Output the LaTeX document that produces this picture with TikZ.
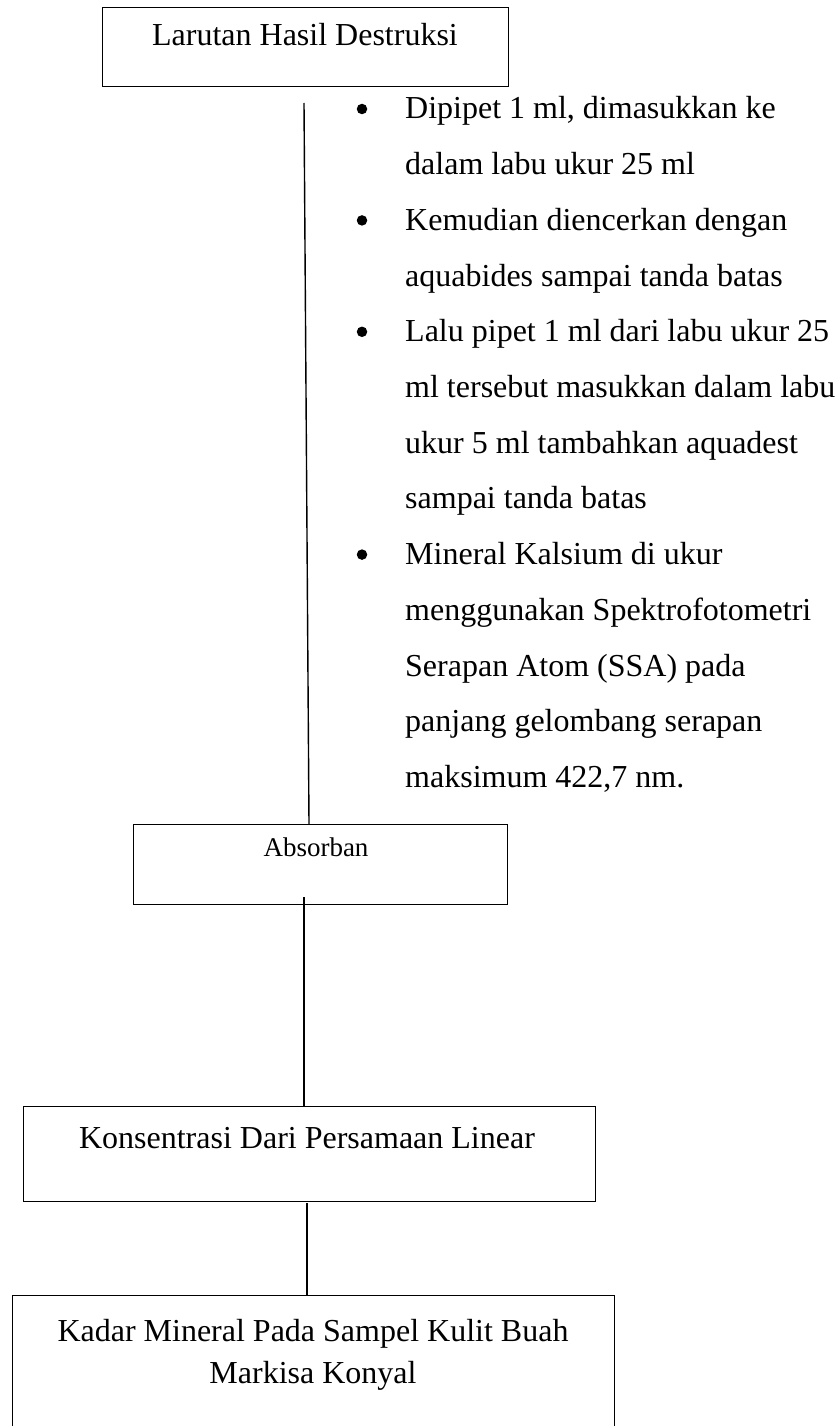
\documentclass[tikz,border=0pt]{standalone}
\usepackage{fontspec}
\setmainfont{Liberation Serif}
\begin{document}
\begin{tikzpicture}[x=1pt,y=-1pt,
  box/.style={draw=black, line width=1.4pt, inner sep=0pt, anchor=north west},
  txt/.style={inner sep=0pt, anchor=base, font=\fontsize{32}{40}\selectfont},
  small/.style={inner sep=0pt, anchor=base, font=\fontsize{27}{34}\selectfont},
  item/.style={inner sep=0pt, anchor=base west, font=\fontsize{32}{40}\selectfont},
  dot/.style={circle, fill=black, inner sep=0pt, minimum size=10.5pt},
  link/.style={draw=black, line width=1.4pt}]
\useasboundingbox[fill=white] (0,0) rectangle (838,1426);

% boxes
\node[box, minimum width=406pt, minimum height=79pt] (b1) at (102,7) {};
\node[box, minimum width=374pt, minimum height=80pt] (b2) at (133,824) {};
\node[box, minimum width=572pt, minimum height=95pt] (b3) at (23,1106) {};
\node[box, minimum width=602pt, minimum height=160pt] (b4) at (12,1295) {};

% box labels
\node[txt] (l1) at (305,46) {Larutan Hasil Destruksi};
\node[small] (l2) at (316,856) {Absorban};
\node[txt] (l3) at (307,1148) {Konsentrasi Dari Persamaan Linear};
\node[txt] (l4a) at (313,1341) {Kadar Mineral Pada Sampel Kulit Buah};
\node[txt] (l4b) at (313,1383) {Markisa Konyal};

% procedure steps
\foreach \t [count=\k from 0] in {
  {Dipipet 1 ml, dimasukkan ke},
  {dalam labu ukur 25 ml},
  {Kemudian diencerkan dengan},
  {aquabides sampai tanda batas},
  {Lalu pipet 1 ml dari labu ukur 25},
  {ml tersebut masukkan dalam labu},
  {ukur 5 ml tambahkan aquadest},
  {sampai tanda batas},
  {Mineral Kalsium di ukur},
  {menggunakan Spektrofotometri},
  {Serapan Atom (SSA) pada},
  {panjang gelombang serapan},
  {maksimum 422,7 nm.}}
  \node[item] (s\k) at (405,{119+55.7*\k}) {\t};
\foreach \k in {0,2,4,8}
  \node[dot] (d\k) at (362,{109+55.7*\k}) {};

% connectors
\coordinate (c1) at (304,103);
\coordinate (c2) at (309,824);
\coordinate (c3) at (304,897);
\coordinate (c4) at (304,1106);
\coordinate (c5) at (307,1203);
\coordinate (c6) at (307,1295);
\draw[link] (c1) -- (c2);
\draw[link] (c3) -- (c4);
\draw[link] (c5) -- (c6);
\end{tikzpicture}
\end{document}
